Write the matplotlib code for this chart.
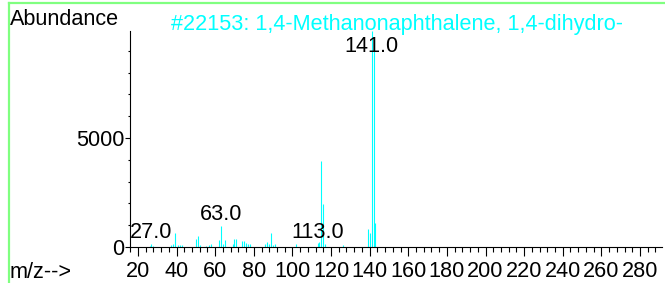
import matplotlib
matplotlib.use("Agg")
import matplotlib.pyplot as plt
from matplotlib.ticker import MultipleLocator
from matplotlib.lines import Line2D

plt.rcParams['font.family'] = ['Liberation Sans', 'DejaVu Sans']

# spectrum
mz = [26, 27, 28, 37, 38, 39, 41, 42, 43, 50, 51, 52, 55, 57, 58, 62, 63, 64, 65,
      69, 70, 71, 74, 75, 76, 77, 78, 86, 87, 88, 89, 90, 91, 102,
      113, 114, 115, 116, 117, 126, 139, 140, 141, 142, 143]
abundance = [60, 120, 50, 100, 150, 650, 80, 90, 80, 350, 500, 100, 60, 80, 120, 320, 950, 130, 300,
             130, 380, 380, 280, 280, 180, 140, 140, 130, 220, 150, 620, 100, 150, 130,
             180, 230, 3950, 1960, 160, 90, 830, 650, 9900, 9500, 1110]

# labelled peaks and where their text sits
label_mz = [27, 63, 113, 141]
label_y = [410, 1240, 410, 8960]

title = "#22153: 1,4-Methanonaphthalene, 1,4-dihydro-"
cyan = "#00ffff"
fs = 15.6

fig = plt.figure(figsize=(6.65, 2.83), dpi=100)
ax = fig.add_axes([130 / 665, 1 - 247 / 283, 532 / 665, 216 / 283])

ax.vlines(mz, 0, abundance, colors=cyan, linewidth=0.8)
for m, y in zip(label_mz, label_y):
    ax.text(m, y, f"{m:.1f}", ha="center", va="baseline", fontsize=fs, color="black")

ax.set_xlim(15.9, 291.4)
ax.set_ylim(0, 9910)
for s in ["top", "right"]:
    ax.spines[s].set_visible(False)
ax.spines["left"].set_linewidth(0.8)
ax.spines["bottom"].set_linewidth(0.8)

ax.xaxis.set_major_locator(MultipleLocator(20))
ax.xaxis.set_minor_locator(MultipleLocator(4))
ax.set_xticks(range(20, 281, 20))
ax.yaxis.set_major_locator(MultipleLocator(5000))
ax.yaxis.set_minor_locator(MultipleLocator(1000))
ax.tick_params(axis="x", which="major", length=6.5, width=0.8, labelsize=fs, pad=3.5)
ax.tick_params(axis="x", which="minor", length=3.6, width=0.8)
ax.tick_params(axis="y", which="major", length=3.6, width=0.8, labelsize=fs, pad=0.5)
ax.tick_params(axis="y", which="minor", length=1.8, width=0.8)

fig.text(10 / 665, 1 - 25 / 283, "Abundance", fontsize=fs, va="baseline", ha="left")
fig.text(397 / 665, 1 - 30 / 283, title, fontsize=fs, va="baseline", ha="center", color=cyan)
fig.text(10 / 665, 1 - 278 / 283, "m/z-->", fontsize=fs, va="baseline", ha="left")

# green frame along top and left edge
green = "#80ff80"
fig.add_artist(Line2D([9 / 665, 1], [1 - 3 / 283, 1 - 3 / 283], color=green, linewidth=1.6))
fig.add_artist(Line2D([9 / 665, 9 / 665], [0, 1 - 3 / 283], color=green, linewidth=1.6))

fig.savefig("out.png", dpi=100)
